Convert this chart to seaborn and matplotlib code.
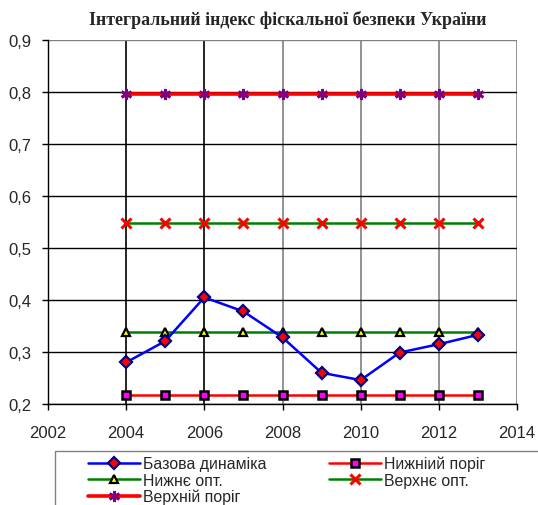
import matplotlib
matplotlib.use("Agg")
import matplotlib.pyplot as plt
import seaborn as sns
import pandas as pd
from matplotlib.patches import Rectangle

years = [2004, 2005, 2006, 2007, 2008, 2009, 2010, 2011, 2012, 2013]
base = [0.280, 0.321, 0.405, 0.378, 0.328, 0.260, 0.246, 0.299, 0.315, 0.333]
lower_thr = [0.217] * 10
lower_opt = [0.338] * 10
upper_opt = [0.549] * 10
upper_thr = [0.797] * 10

title = "Інтегральний індекс фіскальної безпеки України"
labels = ["Базова динаміка", "Нижніий поріг", "Нижнє опт.", "Верхнє опт.", "Верхній поріг"]
yticks = [0.2, 0.3, 0.4, 0.5, 0.6, 0.7, 0.8, 0.9]
ytick_labels = ["0,2", "0,3", "0,4", "0,5", "0,6", "0,7", "0,8", "0,9"]
xticks = [2002, 2004, 2006, 2008, 2010, 2012, 2014]

sns.set_style("white")
plt.rcParams["font.family"] = ["Liberation Sans", "DejaVu Sans"]

W, H = 538, 506
fig = plt.figure(figsize=(W / 100, H / 100), dpi=100)
ax = fig.add_axes([48 / W, 1 - 405 / H, (517 - 48) / W, (405 - 41) / H])

df = pd.DataFrame({"year": years, "base": base, "lt": lower_thr, "lo": lower_opt,
                   "uo": upper_opt, "ut": upper_thr})

sns.lineplot(data=df, x="year", y="ut", ax=ax, color="#ff0000", lw=2.6,
             marker=(6, 2, 0), ms=8, mec="#800080", mew=2.0, label=labels[4])
sns.lineplot(data=df, x="year", y="uo", ax=ax, color="#008000", lw=1.8,
             marker="x", ms=7, mec="#ff0000", mew=2.2, label=labels[3])
sns.lineplot(data=df, x="year", y="lo", ax=ax, color="#008000", lw=1.8,
             marker="^", ms=5.5, mfc="#ffff00", mec="#000000", mew=1.6, label=labels[2])
sns.lineplot(data=df, x="year", y="lt", ax=ax, color="#ff0000", lw=1.8,
             marker="s", ms=5.2, mfc="#ff00ff", mec="#000000", mew=1.8, label=labels[1])
sns.lineplot(data=df, x="year", y="base", ax=ax, color="#0000ff", lw=1.8,
             marker="D", ms=6.2, mfc="#ff0000", mec="#000080", mew=1.6, label=labels[0])

ax.set_xlim(2002, 2014)
ax.set_ylim(0.2, 0.9)
ax.set_xticks(xticks)
ax.set_xticklabels([str(x) for x in xticks])
ax.set_yticks(yticks)
ax.set_yticklabels(ytick_labels)
ax.set_xlabel("")
ax.set_ylabel("")
ax.tick_params(axis="both", direction="out", length=4, width=1, color="black",
               labelsize=12, left=True, bottom=True)
ax.tick_params(axis="x", pad=11)
ax.tick_params(axis="y", pad=8)

ax.grid(True, color="black", lw=1.0)
ax.set_axisbelow(True)
for t, gl in zip(yticks, ax.get_ygridlines()):
    gl.set_color("#808080" if t == 0.9 else "#000000")
for t, gl in zip(xticks, ax.get_xgridlines()):
    gl.set_color("#000000" if t in (2002, 2004, 2006) else "#808080")
    gl.set_linewidth(1.2)

for s in ["top", "right"]:
    ax.spines[s].set_visible(False)
for s in ["left", "bottom"]:
    ax.spines[s].set_color("black")
    ax.spines[s].set_linewidth(1.0)

fig.text(288 / W, 1 - 20 / H, title, ha="center", va="center",
         family=["Liberation Serif", "DejaVu Serif"], weight="bold", fontsize=12.9)

handles, lbls = ax.get_legend_handles_labels()
ax.get_legend().remove()
order_map = dict(zip(lbls, handles))
order = [labels[0], labels[2], labels[4], labels[1], labels[3]]
fig.patches.append(Rectangle((55 / W, -0.05), 1.0, (1 - 452 / H) + 0.05,
                             transform=fig.transFigure, fill=False,
                             edgecolor="#808080", lw=1.0))
fig.legend([order_map[o] for o in order], order, loc="upper left",
           bbox_to_anchor=(80 / W, 1 - 449 / H), ncol=2, frameon=False,
           fontsize=11.4, handlelength=3.3, handletextpad=0.2, labelspacing=0.08,
           columnspacing=3.9, borderpad=0.0)

fig.savefig("out.png", dpi=100)
